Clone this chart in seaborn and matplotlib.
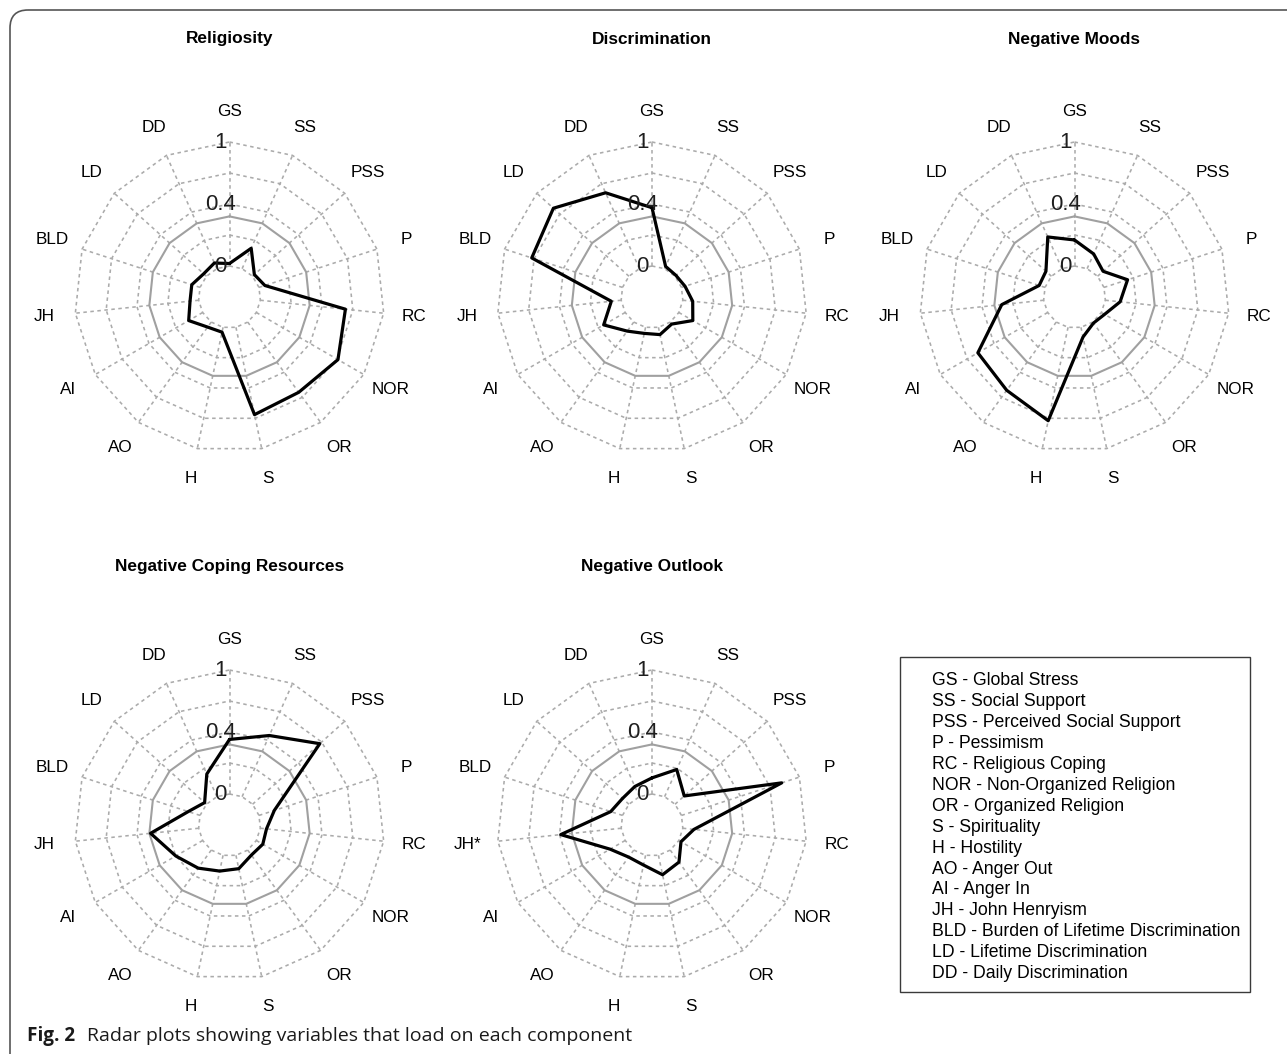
import numpy as np
import pandas as pd
import matplotlib
matplotlib.use("Agg")
import matplotlib.pyplot as plt
import seaborn as sns
from matplotlib.patches import FancyBboxPatch, Rectangle

# ---------------- data ----------------
variables = ["GS", "SS", "PSS", "P", "RC", "NOR", "OR", "S", "H", "AO", "AI", "JH", "BLD", "LD", "DD"]
variables_outlook = ["GS", "SS", "PSS", "P", "RC", "NOR", "OR", "S", "H", "AO", "AI", "JH*", "BLD", "LD", "DD"]

religiosity = [0.02, 0.18, 0.02, 0.05, 0.69, 0.76, 0.70, 0.72, 0.04, 0.05, 0.13, 0.07, 0.07, 0.03, 0.05]
discrimination = [0.47, 0.02, 0.01, 0.03, 0.08, 0.13, 0.02, 0.06, 0.05, 0.09, 0.20, 0.08, 0.77, 0.82, 0.67]
negative_moods = [0.21, 0.13, 0.06, 0.20, 0.12, 0.03, 0.01, 0.08, 0.77, 0.68, 0.65, 0.34, 0.05, 0.06, 0.28]
negative_coping = [0.44, 0.54, 0.73, 0.13, 0.05, 0.06, 0.05, 0.11, 0.13, 0.18, 0.25, 0.39, 0.10, 0.02, 0.20]
negative_outlook = [0.13, 0.24, 0.10, 0.85, 0.09, 0.02, 0.12, 0.16, 0.08, 0.07, 0.14, 0.49, 0.10, 0.07, 0.09]

titles = ["Religiosity", "Discrimination", "Negative Moods", "Negative Coping Resources", "Negative Outlook"]
threshold = 0.4
ring_labels = ["0", "", "0.4", "", "1"]

legend_lines = [
    "GS - Global Stress",
    "SS - Social Support",
    "PSS - Perceived Social Support",
    "P - Pessimism",
    "RC - Religious Coping",
    "NOR - Non-Organized Religion",
    "OR - Organized Religion",
    "S - Spirituality",
    "H - Hostility",
    "AO - Anger Out",
    "AI - Anger In",
    "JH - John Henryism",
    "BLD - Burden of Lifetime Discrimination",
    "LD - Lifetime Discrimination",
    "DD - Daily Discrimination",
]
caption_bold = "Fig. 2"
caption_text = "Radar plots showing variables that load on each component"

# ---------------- layout ----------------
W, H, DPI = 1287, 1054, 100
sns.set_theme(style="white")
plt.rcParams["font.family"] = ["Liberation Sans", "DejaVu Sans"]

fig = plt.figure(figsize=(W / DPI, H / DPI), dpi=DPI)
fig.patch.set_facecolor("white")

bg = fig.add_axes([0, 0, 1, 1])
bg.set_xlim(0, W)
bg.set_ylim(H, 0)
bg.axis("off")

R_PX = 155.0
HALF = 1.6
centers = [(229.5, 297), (652, 297), (1074.5, 297), (229.5, 825), (652, 825)]
panels = [
    (religiosity, variables),
    (discrimination, variables),
    (negative_moods, variables),
    (negative_coping, variables),
    (negative_outlook, variables_outlook),
]

GRID_C = "#ababab"
GRID_LS = (0, (2.2, 2.2))
SEG = 4
INNER = 1.0 / (SEG + 1)


def to_r(v):
    return INNER + (1 - INNER) * np.asarray(v, dtype=float)


def radar(ax, values, labels, title):
    n = len(labels)
    theta = np.deg2rad(90 - 360.0 / n * np.arange(n))
    cx, sy = np.cos(theta), np.sin(theta)
    # dashed rings
    for i in range(SEG + 1):
        r = (i + 1) / (SEG + 1)
        ax.plot(np.r_[cx, cx[0]] * r, np.r_[sy, sy[0]] * r, color=GRID_C, lw=1.15, ls=GRID_LS)
    # spokes
    for k in range(n):
        ax.plot([INNER * cx[k], cx[k]], [INNER * sy[k], sy[k]], color=GRID_C, lw=1.15, ls=GRID_LS)
    # threshold ring
    rt = to_r(threshold)
    ax.plot(np.r_[cx, cx[0]] * rt, np.r_[sy, sy[0]] * rt, color="#a0a0a0", lw=1.5, ls="-")
    # ring labels
    for i, lab in enumerate(ring_labels):
        if lab:
            ax.text(-0.06, (i + 1) / (SEG + 1), lab, ha="center", va="center",
                    fontsize=16, color="#1e1e1e")
    # variable labels
    for k, lab in enumerate(labels):
        ax.text(1.2 * cx[k], 1.2 * sy[k], lab, ha="center", va="center", fontsize=12.3, color="black")
    # data polygon
    r = to_r(values)
    df = pd.DataFrame({"x": np.r_[r * cx, r[0] * cx[0]], "y": np.r_[r * sy, r[0] * sy[0]]})
    sns.lineplot(data=df, x="x", y="y", sort=False, estimator=None, color="black",
                 linewidth=2.3, ax=ax, legend=False)
    ax.text(0, 258 / R_PX, title, ha="center", va="center", fontsize=12.4,
            fontweight="bold", color="black")
    ax.set_xlim(-HALF, HALF)
    ax.set_ylim(-HALF, HALF)
    ax.set_aspect("equal")
    ax.axis("off")


size_px = 2 * HALF * R_PX
for (vals, labs), title, (cxp, cyp) in zip(panels, titles, centers):
    left = (cxp - size_px / 2) / W
    bottom = (H - cyp - size_px / 2) / H
    ax = fig.add_axes([left, bottom, size_px / W, size_px / H])
    radar(ax, vals, labs, title)

# legend box
bg.add_patch(Rectangle((900, 657), 350, 335, fill=False, edgecolor="#3a3a3a", lw=1.0))
for k, line in enumerate(legend_lines):
    bg.text(932, 685 + 20.95 * k, line, ha="left", va="baseline", fontsize=12.7, color="black")

# outer rounded frame
bg.add_patch(FancyBboxPatch((10, 10), 1320, 1080, boxstyle="round,pad=0,rounding_size=18",
                            fill=False, edgecolor="#555555", lw=1.2, clip_on=True))

# caption
bg.text(27, 1041, caption_bold, ha="left", va="baseline", fontsize=13.6, fontweight="bold",
        family=["Open Sans", "DejaVu Sans"], color="#1a1a1a")
bg.text(87, 1041, caption_text, ha="left", va="baseline", fontsize=14.0,
        family=["Open Sans", "DejaVu Sans"], color="#1a1a1a")

fig.savefig("out.png", dpi=DPI, facecolor="white")
